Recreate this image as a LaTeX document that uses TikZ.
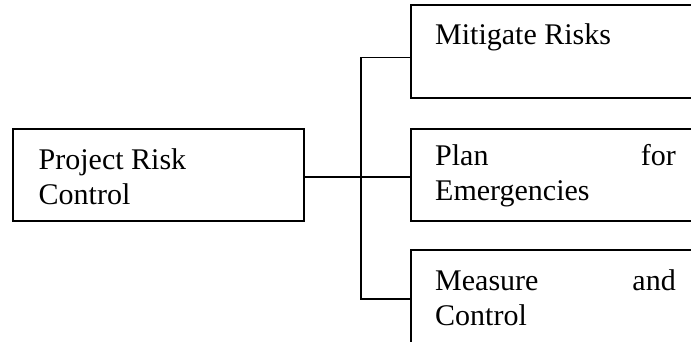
\documentclass[tikz,border=0pt]{standalone}
\usepackage{fontspec}
\setmainfont{Liberation Serif}
\begin{document}
\begin{tikzpicture}[x=1pt,y=-1pt,
  box/.style={draw, line width=1.6pt, rectangle, inner sep=0pt},
  label/.style={inner sep=0pt, font=\fontsize{30}{35}\selectfont},
  link/.style={line width=1.6pt}]
  \useasboundingbox (0,0) rectangle (691,341);
  \clip (0,0) rectangle (691,341);
  % boxes
  \node[box, minimum width=291pt, minimum height=91.5pt] (root) at (158.5,175) {};
  \node[box, minimum width=290pt, minimum height=93pt] (mit) at (556,51.5) {};
  \node[box, minimum width=290pt, minimum height=92pt] (plan) at (556,175) {};
  \node[box, minimum width=290pt, minimum height=95pt] (meas) at (556,297.5) {};
  % texts
  \node[label, anchor=base west] (t1) at (38.5,169.5) {Project Risk};
  \node[label, anchor=base west] (t2) at (38.5,204) {Control};
  \node[label, anchor=base west] (t3) at (435,44.5) {Mitigate Risks};
  \node[label, anchor=base west] (t4) at (435,165) {Plan};
  \node[label, anchor=base east] (t5) at (676,165) {for};
  \node[label, anchor=base west] (t6) at (435,200.5) {Emergencies};
  \node[label, anchor=base west] (t7) at (435,290.5) {Measure};
  \node[label, anchor=base east] (t8) at (676,290.5) {and};
  \node[label, anchor=base west] (t9) at (435,325.5) {Control};
  % connectors
  \coordinate (bus) at (361,177);
  \coordinate (jt) at (361,57.5);
  \coordinate (jb) at (361,299);
  \draw[link] (root.east |- bus) -- (plan.west |- bus);
  \draw[link] (mit.west |- jt) -- (jt) -- (jb) -- (meas.west |- jb);
\end{tikzpicture}
\end{document}
